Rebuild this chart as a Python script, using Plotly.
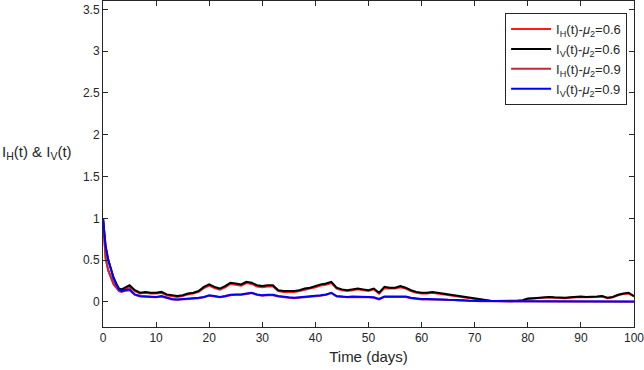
import plotly.graph_objects as go

days = [0, 0.5, 1, 1.5, 2, 2.5, 3, 3.5] + list(range(4, 101))

iv_06 = [1.00, 0.66, 0.50, 0.38, 0.29, 0.22, 0.16, 0.15,
         0.17, 0.20, 0.14, 0.11, 0.12, 0.11, 0.11, 0.12, 0.09, 0.08,
         0.07, 0.08, 0.10, 0.11, 0.13, 0.18, 0.21, 0.18, 0.16, 0.19,
         0.23, 0.22, 0.21, 0.24, 0.23, 0.20, 0.19, 0.20, 0.20, 0.14,
         0.13, 0.13, 0.13, 0.14, 0.16, 0.17, 0.19, 0.21, 0.22, 0.24,
         0.17, 0.15, 0.14, 0.15, 0.16, 0.15, 0.14, 0.16, 0.11, 0.18,
         0.17, 0.17, 0.19, 0.17, 0.14, 0.12, 0.11, 0.11, 0.12, 0.11,
         0.10, 0.09, 0.08, 0.07, 0.06, 0.05, 0.04, 0.03, 0.02, 0.015,
         0.01, 0.01, 0.01, 0.01, 0.015, 0.02, 0.04, 0.045, 0.05, 0.06,
         0.06, 0.055, 0.05, 0.05, 0.055, 0.06, 0.065, 0.06, 0.06, 0.065,
         0.07, 0.05, 0.06, 0.085, 0.10, 0.11, 0.07]

ih_06 = [1.00, 0.52, 0.38, 0.29, 0.22, 0.18, 0.14, 0.13,
         0.15, 0.18, 0.13, 0.10, 0.11, 0.10, 0.10, 0.11, 0.08, 0.07,
         0.06, 0.07, 0.09, 0.10, 0.12, 0.165, 0.195, 0.165, 0.145, 0.175,
         0.215, 0.205, 0.195, 0.225, 0.215, 0.185, 0.175, 0.185, 0.185, 0.13,
         0.12, 0.12, 0.12, 0.13, 0.145, 0.155, 0.175, 0.195, 0.205, 0.225,
         0.16, 0.14, 0.13, 0.14, 0.15, 0.14, 0.13, 0.15, 0.10, 0.165,
         0.16, 0.16, 0.175, 0.16, 0.13, 0.11, 0.10, 0.10, 0.11, 0.10,
         0.09, 0.085, 0.075, 0.065, 0.055, 0.045, 0.035, 0.025, 0.017, 0.012,
         0.008, 0.008, 0.008, 0.008, 0.012, 0.017, 0.035, 0.04, 0.045, 0.055,
         0.055, 0.05, 0.045, 0.045, 0.05, 0.055, 0.06, 0.055, 0.055, 0.06,
         0.065, 0.045, 0.055, 0.08, 0.095, 0.10, 0.065]

iv_09 = [1.00, 0.66, 0.50, 0.38, 0.28, 0.21, 0.15, 0.13,
         0.14, 0.15, 0.09, 0.07, 0.065, 0.06, 0.06, 0.07, 0.05, 0.035,
         0.03, 0.035, 0.04, 0.04, 0.05, 0.06, 0.08, 0.07, 0.06, 0.07,
         0.085, 0.09, 0.09, 0.10, 0.11, 0.09, 0.08, 0.085, 0.085, 0.07,
         0.06, 0.055, 0.05, 0.055, 0.06, 0.065, 0.075, 0.08, 0.09, 0.11,
         0.07, 0.065, 0.06, 0.065, 0.065, 0.06, 0.06, 0.055, 0.035, 0.065,
         0.065, 0.065, 0.07, 0.065, 0.05, 0.04, 0.035, 0.035, 0.035, 0.03,
         0.03, 0.025, 0.025, 0.02, 0.02, 0.015, 0.012, 0.01, 0.01, 0.01,
         0.01, 0.01, 0.01, 0.01, 0.01, 0.01, 0.01, 0.009, 0.009, 0.009,
         0.008, 0.008, 0.008, 0.008, 0.007, 0.007, 0.007, 0.007, 0.006, 0.006,
         0.006, 0.006, 0.006, 0.005, 0.005, 0.005, 0.005]

ih_09 = [1.00, 0.52, 0.37, 0.28, 0.21, 0.17, 0.13, 0.12,
         0.13, 0.14, 0.085, 0.065, 0.06, 0.055, 0.055, 0.065, 0.045, 0.03,
         0.027, 0.03, 0.035, 0.035, 0.045, 0.055, 0.075, 0.065, 0.055, 0.065,
         0.08, 0.085, 0.085, 0.095, 0.105, 0.085, 0.075, 0.08, 0.08, 0.065,
         0.055, 0.05, 0.045, 0.05, 0.055, 0.06, 0.07, 0.075, 0.085, 0.105,
         0.065, 0.06, 0.055, 0.06, 0.06, 0.055, 0.055, 0.05, 0.03, 0.06,
         0.06, 0.06, 0.065, 0.06, 0.045, 0.035, 0.03, 0.03, 0.03, 0.027,
         0.027, 0.022, 0.022, 0.018, 0.018, 0.013, 0.01, 0.008, 0.008, 0.008,
         0.008, 0.008, 0.008, 0.008, 0.008, 0.008, 0.008, 0.007, 0.007, 0.007,
         0.006, 0.006, 0.006, 0.006, 0.005, 0.005, 0.005, 0.005, 0.004, 0.004,
         0.004, 0.004, 0.004, 0.003, 0.003, 0.003, 0.003]

series = [
    ("I<sub>H</sub>(t)-<i>μ</i><sub>2</sub>=0.6", ih_06, "#ff1a1a"),
    ("I<sub>V</sub>(t)-<i>μ</i><sub>2</sub>=0.6", iv_06, "#000000"),
    ("I<sub>H</sub>(t)-<i>μ</i><sub>2</sub>=0.9", ih_09, "#c0283c"),
    ("I<sub>V</sub>(t)-<i>μ</i><sub>2</sub>=0.9", iv_09, "#0000ff"),
]

x_ticks = list(range(0, 101, 10))
y_ticks = [0, 0.5, 1, 1.5, 2, 2.5, 3, 3.5]
y_tick_text = ["0", "0.5", "1", "1.5", "2", "2.5", "3", "3.5"]

fig = go.Figure()
for name, vals, col in series:
    fig.add_trace(go.Scatter(x=days, y=vals, mode="lines", name=name,
                             line=dict(color=col, width=2)))

axis_common = dict(showgrid=False, zeroline=False, showline=True,
                   linecolor="#262626", linewidth=1, mirror="ticks",
                   ticks="inside", ticklen=5, tickcolor="#262626",
                   tickfont=dict(size=12, color="#262626"), automargin=False,
                   ticklabeloverflow="allow")

fig.update_layout(
    width=644, height=370,
    margin=dict(l=103, r=10, t=1, b=43),
    plot_bgcolor="white", paper_bgcolor="white",
    font=dict(family="Liberation Sans, Arial, sans-serif", color="#262626"),
    xaxis=dict(range=[0, 100.001], tickvals=x_ticks, **axis_common,
               title=dict(text="Time (days)", font=dict(size=15), standoff=7)),
    yaxis=dict(range=[-0.3, 3.6], tickvals=y_ticks, ticktext=y_tick_text,
               **axis_common),
    legend=dict(x=0.987, y=0.963, xanchor="right", yanchor="top",
                bordercolor="#262626", borderwidth=1, bgcolor="white",
                font=dict(size=13, color="#262626"), tracegroupgap=0,
                itemwidth=40),
    showlegend=True,
)

fig.add_annotation(text="I<sub>H</sub>(t) & I<sub>V</sub>(t)", xref="paper", yref="paper",
                   x=-0.194, y=0.535, xanchor="left", yanchor="middle",
                   showarrow=False, font=dict(size=15, color="#262626"))

fig.write_html("out.html", config={"displayModeBar": False},
               post_script="document.body.style.margin='0';document.body.style.overflow='hidden';")
